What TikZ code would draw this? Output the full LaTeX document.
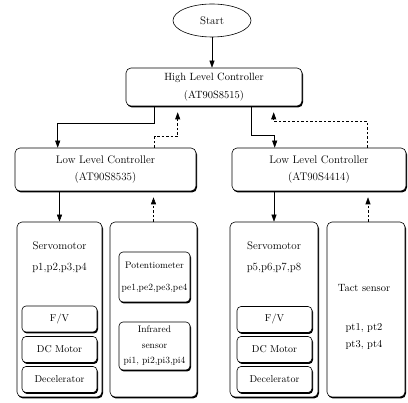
\documentclass[tikz,border=0pt]{standalone}
\usepackage{amsmath}
\usepackage{tikz}
\usetikzlibrary{shapes,arrows.meta,positioning,shadows}

\begin{document}
\begin{tikzpicture}[x=1pt,y=-1pt,>={Triangle[length=7pt,width=5pt]},
  box/.style={draw,rounded corners=5pt,fill=white,inner sep=0pt,align=center,line width=0.6pt,
    drop shadow={shadow xshift=1pt,shadow yshift=-1.5pt,fill=black,opacity=1}},
  part/.style={box,rounded corners=4pt,minimum width=75pt,minimum height=26pt,font=\fontsize{10}{12}\selectfont},
  flow/.style={->,line width=0.6pt},
  fb/.style={->,dash pattern=on 2.5pt off 2pt,line width=0.6pt,shorten >=6pt}]
\useasboundingbox (0,0) rectangle (408,403);

%Start
\node[draw,ellipse,minimum width=78pt,minimum height=33pt,inner sep=0pt,line width=0.6pt,font=\fontsize{11}{13}\selectfont] (start) at (212,20.5) {Start};

%Controllers
\node[box,minimum width=176pt,minimum height=38pt,font=\fontsize{10.5}{18}\selectfont] (hlc) at (214,87) {High Level Controller\\(AT90S8515)};
\node[box,minimum width=181pt,minimum height=43pt,font=\fontsize{11}{17}\selectfont] (llca) at (105.5,169.5) {Low Level Controller\\(AT90S8535)};
\node[box,minimum width=174pt,minimum height=43pt,font=\fontsize{11}{17}\selectfont] (llcb) at (319,169.5) {Low Level Controller\\(AT90S4414)};

%Servomotor 1
\node[box,minimum width=85pt,minimum height=175pt] (servoa) at (59.5,309.5) {};
\node[font=\fontsize{11}{13}\selectfont] (servoaname) at (59.5,246) {Servomotor};
\node[font=\fontsize{11}{13}\selectfont] (servoapins) at (59.5,268) {p1,p2,p3,p4};
\node[part] (fva) at (59.5,319) {F/V};
\node[part] (dca) at (59.5,349.5) {DC Motor};
\node[part] (deca) at (59.5,379.5) {Decelerator};

%Sensors
\node[box,minimum width=87pt,minimum height=175pt] (sensa) at (153.5,309.5) {};
\node[box,rounded corners=4pt,minimum width=71pt,minimum height=50pt,font=\fontsize{9.5}{22}\selectfont] (pot) at (154.5,277) {Potentiometer\\pe1,pe2,pe3,pe4};
\node[box,rounded corners=4pt,minimum width=71pt,minimum height=48pt,font=\fontsize{9.5}{15.5}\selectfont] (ir) at (154.5,346) {Infrared\\sensor\\pi1, pi2,pi3,pi4};

%Servomotor 2
\node[box,minimum width=88pt,minimum height=175pt] (servob) at (274,309.5) {};
\node[font=\fontsize{11}{13}\selectfont] (servobname) at (274,246) {Servomotor};
\node[font=\fontsize{11}{13}\selectfont] (servobpins) at (274,268) {p5,p6,p7,p8};
\node[part] (fvb) at (274.5,319.5) {F/V};
\node[part] (dcb) at (274.5,349.5) {DC Motor};
\node[part] (decb) at (274.5,379.5) {Decelerator};

%Tact sensor
\node[box,minimum width=78pt,minimum height=175pt] (tact) at (366,309.5) {};
\node[font=\fontsize{10.5}{12}\selectfont] (tactname) at (364,288) {Tact sensor};
\node[align=center,font=\fontsize{10.5}{17}\selectfont] (tactpins) at (364,336.5) {pt1, pt2\\pt3, pt4};

%Commands
\draw[flow] (start.south) -- (start.south |- hlc.north);
\draw[flow] ([xshift=29pt]hlc.south west) -- ++(0,17) -| ([xshift=43pt]llca.north west);
\draw[flow] ([xshift=126pt]hlc.south west) -- ++(0,29) -| ([xshift=43pt]llcb.north west);
\draw[flow] (servoa.north |- llca.south) -- (servoa.north);
\draw[flow] (servob.north |- llcb.south) -- (servob.north);

%Feedback
\draw[fb] ([xshift=140pt]llca.north west) -- ++(0,-11) -| ([xshift=52pt]hlc.south west);
\draw[fb] ([xshift=136pt]llcb.north west) -- ++(0,-26) -| ([xshift=148pt]hlc.south west);
\draw[fb] (sensa.north) -- (sensa.north |- llca.south);
\draw[fb] ([xshift=2pt]tact.north) -- ([xshift=2pt]tact.north |- llcb.south);

\end{tikzpicture}
\end{document}
